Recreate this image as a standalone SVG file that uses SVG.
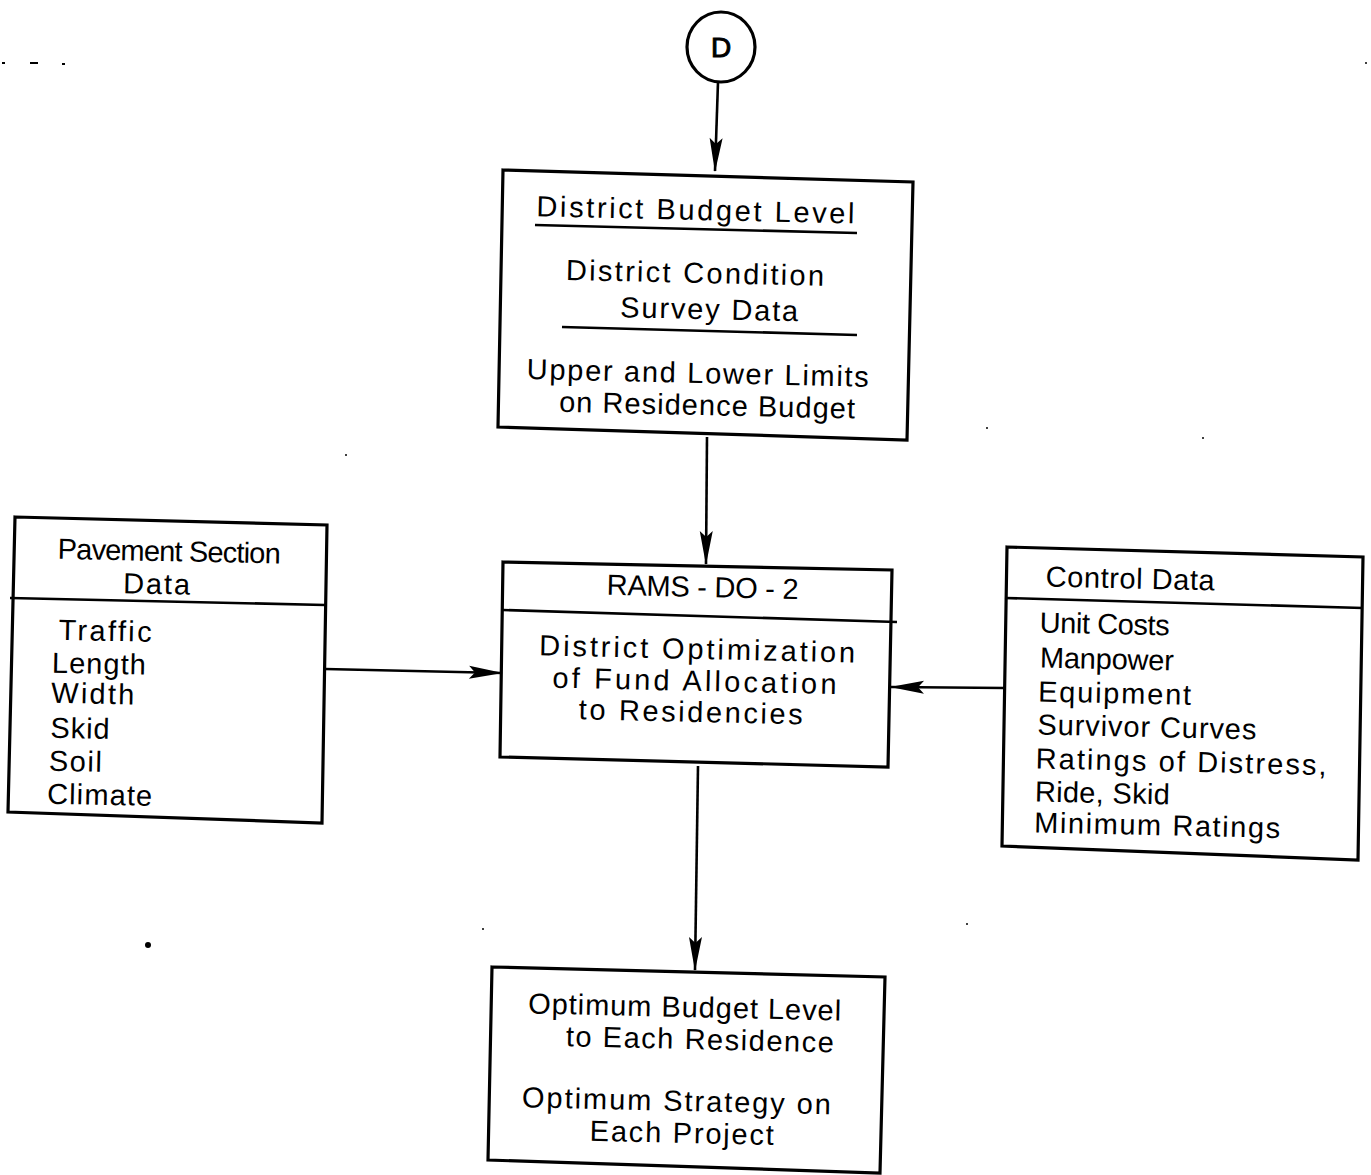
<svg xmlns="http://www.w3.org/2000/svg" width="1371" height="1175" viewBox="0 0 1371 1175">
<defs>
<style>
.box{fill:none;stroke:#000;stroke-width:3.2;stroke-linejoin:miter}
.ln{fill:none;stroke:#000;stroke-width:2.6}
.conn{fill:none;stroke:#000;stroke-width:2.6}
text{font-family:"Liberation Sans","DejaVu Sans",Arial,sans-serif;font-size:29px;fill:#000}
.c{text-anchor:middle}
.dot{fill:#000}
</style>
<marker id="ah" viewBox="-34 -8 36 16" refX="0" refY="0" markerWidth="36" markerHeight="16" markerUnits="userSpaceOnUse" orient="auto">
<path d="M1,0 L-33,-6.5 L-27,0 L-33,6.5 Z" fill="#000"/>
</marker>
</defs>
<rect width="1371" height="1175" fill="#fff"/>

<g id="node-d">
<ellipse cx="721" cy="47" rx="34" ry="35" class="box"/>
<text x="721" y="57" class="c" style="font-size:28px" stroke="#000" stroke-width="1">D</text>
</g>

<g id="node-district-budget">
<polygon points="503,170 913,182 907,440 498,427" class="box"/>
<line x1="535" y1="225" x2="857" y2="233" class="ln"/>
<line x1="562" y1="327" x2="857" y2="335" class="ln"/>
<g transform="rotate(1.3 700 320)">
<text x="693" y="220" class="c" textLength="318" lengthAdjust="spacing">District  Budget Level</text>
<text x="694" y="283" class="c" textLength="258" lengthAdjust="spacing">District  Condition</text>
<text x="709" y="319" class="c" textLength="178" lengthAdjust="spacing">Survey  Data</text>
<text x="699" y="383" class="c" textLength="342" lengthAdjust="spacing">Upper  and Lower Limits</text>
<text x="709" y="415" class="c" textLength="296" lengthAdjust="spacing">on  Residence Budget</text>
</g>
</g>

<g id="node-pavement">
<polygon points="15,517 327,525 322,823 8,812" class="box"/>
<line x1="10" y1="598" x2="325" y2="605" class="ln"/>
<g transform="rotate(1.2 160 660)">
<text x="167" y="561" class="c" textLength="223" lengthAdjust="spacing">Pavement Section</text>
<text x="155" y="594" class="c" textLength="67" lengthAdjust="spacing">Data</text>
<text x="58" y="642" textLength="93" lengthAdjust="spacing">Traffic</text>
<text x="52" y="675" textLength="94" lengthAdjust="spacing">Length</text>
<text x="52" y="705" textLength="83" lengthAdjust="spacing">Width</text>
<text x="52" y="740" textLength="59" lengthAdjust="spacing">Skid</text>
<text x="51" y="773" textLength="53" lengthAdjust="spacing">Soil</text>
<text x="50" y="806" textLength="105" lengthAdjust="spacing">Climate</text>
</g>
</g>

<g id="node-rams">
<polygon points="503,562 892,570 888,767 500,757" class="box"/>
<line x1="503" y1="610" x2="897" y2="622" class="ln"/>
<g transform="rotate(1.3 700 660)">
<text x="701" y="597" class="c" textLength="192" lengthAdjust="spacing">RAMS - DO - 2</text>
<text x="697" y="659" class="c" textLength="316" lengthAdjust="spacing">District  Optimization</text>
<text x="695" y="691" class="c" textLength="284" lengthAdjust="spacing">of Fund Allocation</text>
<text x="692" y="722" class="c" textLength="224" lengthAdjust="spacing">to  Residencies</text>
</g>
</g>

<g id="node-control">
<polygon points="1007,547 1363,557 1358,860 1002,846" class="box"/>
<line x1="1005" y1="598" x2="1363" y2="608" class="ln"/>
<g transform="rotate(1.3 1150 700)">
<text x="1043" y="589" textLength="169" lengthAdjust="spacing">Control Data</text>
<text x="1038" y="635" textLength="130" lengthAdjust="spacing">Unit Costs</text>
<text x="1039" y="670" textLength="134" lengthAdjust="spacing">Manpower</text>
<text x="1038" y="704" textLength="153" lengthAdjust="spacing">Equipment</text>
<text x="1038" y="737" textLength="219" lengthAdjust="spacing">Survivor Curves</text>
<text x="1037" y="771" textLength="291" lengthAdjust="spacing">Ratings of  Distress,</text>
<text x="1037" y="804" textLength="135" lengthAdjust="spacing">Ride, Skid</text>
<text x="1037" y="835" textLength="246" lengthAdjust="spacing">Minimum  Ratings</text>
</g>
</g>

<g id="node-optimum">
<polygon points="492,967 885,977 880,1173 488,1160" class="box"/>
<g transform="rotate(1.3 685 1080)">
<text x="683" y="1017" class="c" textLength="313" lengthAdjust="spacing">Optimum Budget Level</text>
<text x="699" y="1049" class="c" textLength="268" lengthAdjust="spacing">to Each Residence</text>
<text x="677" y="1111" class="c" textLength="309" lengthAdjust="spacing">Optimum  Strategy on</text>
<text x="683" y="1143" class="c" textLength="184" lengthAdjust="spacing">Each Project</text>
</g>
</g>

<g id="connectors">
<line x1="718" y1="82" x2="715" y2="171" class="conn" marker-end="url(#ah)"/>
<line x1="707" y1="437" x2="706" y2="564" class="conn" marker-end="url(#ah)"/>
<line x1="325" y1="669" x2="502" y2="673" class="conn" marker-end="url(#ah)"/>
<line x1="1005" y1="688" x2="891" y2="687" class="conn" marker-end="url(#ah)"/>
<line x1="698" y1="766" x2="695" y2="970" class="conn" marker-end="url(#ah)"/>
</g>

<g id="marks">
<circle cx="148" cy="945" r="3" class="dot"/>
<rect x="30" y="62" width="8" height="2" class="dot"/>
<rect x="62" y="63" width="3" height="2" class="dot"/>
<rect x="2" y="62" width="3" height="2" class="dot"/>
<circle cx="346" cy="455" r="1" class="dot"/>
<circle cx="987" cy="428" r="1" class="dot"/>
<circle cx="1203" cy="438" r="1" class="dot"/>
<circle cx="483" cy="929" r="1" class="dot"/>
<circle cx="967" cy="924" r="1" class="dot"/>
<circle cx="1366" cy="63" r="1" class="dot"/>
</g>
</svg>
